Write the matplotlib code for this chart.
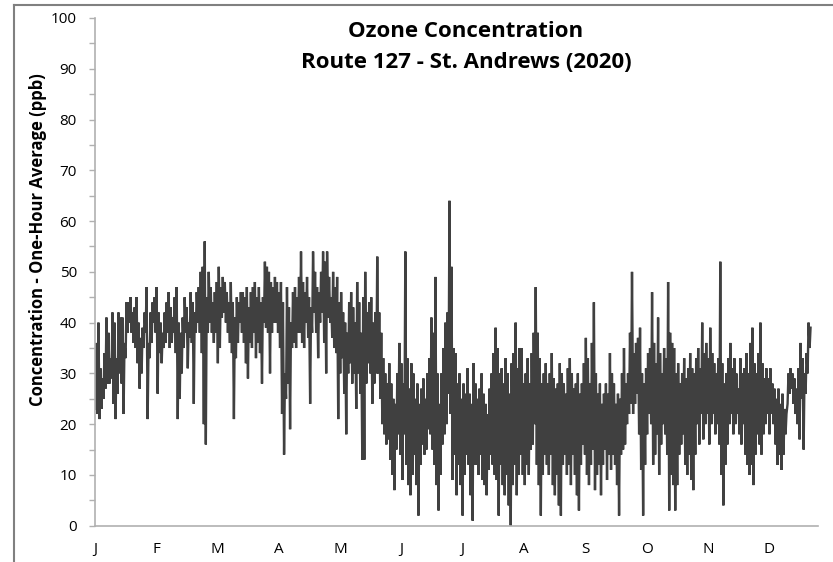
import numpy as np
import matplotlib
matplotlib.use("Agg")
import matplotlib.pyplot as plt

# daily high / low of the hourly ozone trace (ppb), day 0 = Jan 1
hi = [36, 40, 31, 29, 34, 41, 38, 33, 42, 40, 33, 42, 41, 41, 36, 44, 44, 45, 42, 43,
      45, 40, 37, 39, 42, 47, 36, 42, 44, 45, 47,
      42, 40, 38, 42, 44, 46, 43, 41, 45, 47, 40, 38, 41, 45, 43, 40, 46, 44, 42,
      46, 47, 50, 51, 56, 45, 50, 47, 44,
      46, 48, 51, 47, 49, 48, 46, 44, 48, 44, 41, 45, 44, 46, 46, 45, 47, 43, 46, 47,
      48, 45, 47, 44, 45, 52, 51, 50, 48, 47, 49,
      48, 46, 48, 44, 30, 47, 43, 40, 46, 47, 45, 49, 54, 48, 46, 49, 45, 43, 54, 50,
      47, 46, 50, 54, 52, 54, 49, 45, 50, 47,
      49, 44, 46, 42, 40, 38, 44, 46, 43, 40, 48, 44, 38, 45, 50, 42, 44, 45, 40, 42,
      53, 42, 38, 33, 30, 28, 32, 28, 25, 24, 30,
      36, 32, 28, 54, 33, 27, 32, 30, 25, 28, 24, 27, 29, 25, 30, 33, 41, 38, 49, 30,
      24, 30, 35, 40, 42, 64, 51, 35, 34, 28,
      30, 25, 28, 26, 31, 26, 24, 32, 28, 25, 27, 30, 26, 24, 22, 27, 30, 34, 39, 35,
      30, 31, 28, 33, 30, 26, 32, 34, 40, 31, 35,
      35, 28, 30, 33, 28, 34, 38, 47, 38, 33, 28, 30, 32, 28, 30, 34, 29, 27, 28, 32,
      30, 28, 26, 31, 33, 30, 27, 28, 30, 26, 28,
      32, 37, 33, 28, 36, 44, 30, 26, 28, 24, 26, 28, 26, 34, 30, 28, 24, 26, 25, 30,
      35, 28, 30, 38, 50, 34, 36, 37, 39, 30,
      28, 31, 34, 35, 46, 36, 32, 41, 34, 30, 35, 33, 48, 38, 36, 35, 30, 32, 28, 30,
      33, 29, 31, 34, 31, 30, 33, 35, 31, 40, 34,
      36, 33, 39, 34, 32, 30, 33, 52, 32, 28, 30, 33, 36, 31, 33, 30, 27, 33, 30, 31,
      34, 30, 36, 39, 32, 30, 34, 40, 32, 29,
      31, 29, 31, 28, 27, 25, 27, 24, 26, 23, 22, 30, 31, 30, 29, 27, 31, 36, 33, 30,
      34, 40, 39]
lo = [23, 22, 21, 23, 25, 27, 28, 28, 29, 24, 21, 26, 30, 28, 22, 33, 38, 40, 38, 36,
      35, 32, 27, 30, 35, 38, 21, 33, 36, 40, 38,
      26, 34, 32, 35, 36, 38, 35, 36, 38, 34, 21, 25, 30, 35, 38, 31, 37, 36, 24,
      38, 40, 38, 34, 20, 16, 38, 40, 38,
      36, 38, 32, 35, 41, 42, 40, 38, 36, 34, 21, 33, 36, 40, 38, 36, 32, 29, 36, 35,
      38, 33, 36, 34, 28, 40, 39, 38, 30, 38, 40,
      40, 38, 35, 22, 14, 25, 28, 19, 35, 36, 35, 38, 38, 36, 35, 40, 37, 24, 38, 42,
      38, 33, 40, 42, 36, 30, 41, 40, 37, 35,
      34, 21, 30, 33, 26, 18, 30, 32, 28, 30, 23, 30, 26, 13, 13, 28, 32, 30, 24, 28,
      30, 30, 25, 20, 18, 16, 17, 13, 10, 7, 15,
      18, 14, 9, 18, 12, 8, 6, 10, 14, 8, 2, 12, 16, 14, 15, 19, 18, 15, 12, 8,
      3, 10, 16, 18, 20, 26, 22, 9, 14, 6,
      12, 8, 2, 10, 14, 12, 6, 1, 12, 12, 10, 14, 9, 8, 6, 11, 14, 12, 10, 9,
      2, 12, 8, 6, 10, 4, 0, 8, 12, 6, 10,
      14, 10, 8, 12, 10, 15, 16, 20, 12, 8, 2, 10, 14, 12, 10, 14, 8, 6, 10, 4,
      2, 12, 14, 10, 12, 8, 14, 10, 6, 3, 12,
      16, 14, 10, 8, 12, 15, 7, 10, 12, 6, 12, 15, 9, 14, 11, 14, 12, 8, 2, 14,
      15, 16, 20, 22, 24, 22, 24, 26, 18, 11,
      2, 12, 18, 22, 20, 12, 14, 18, 10, 16, 20, 18, 14, 3, 10, 8, 3, 8, 14, 16,
      18, 12, 10, 14, 9, 7, 14, 20, 16, 22, 17,
      20, 22, 16, 20, 22, 18, 20, 16, 10, 4, 12, 16, 20, 22, 18, 20, 22, 18, 16, 20,
      14, 12, 10, 12, 8, 14, 18, 16, 14, 18,
      20, 22, 18, 22, 20, 16, 12, 14, 11, 14, 18, 24, 26, 27, 24, 22, 20, 17, 25, 15,
      26, 30, 35]

month_labels = ["J", "F", "M", "A", "M", "J", "J", "A", "S", "O", "N", "D"]

days = np.arange(len(hi))
t = np.column_stack([days + 0.25, days + 0.7]).ravel()
v = np.column_stack([lo, hi]).ravel()

plt.rcParams["font.family"] = ["Open Sans", "DejaVu Sans"]

fig = plt.figure(figsize=(8.33, 5.62), dpi=100)
ax = fig.add_axes([95 / 833, 1 - 525.7 / 562, 723 / 833, 507.7 / 562])

ax.plot(t, v, color="#404040", lw=1.7, solid_joinstyle="miter")

ax.set_xlim(0, 723 / 2.006)
ax.set_ylim(0, 100)
ax.set_yticks(range(0, 101, 10))
ax.set_yticks(range(5, 100, 10), minor=True)
ax.set_xticks([30.55 * k for k in range(12)])
ax.set_xticklabels(month_labels)
ax.tick_params(axis="y", which="both", direction="out", length=4.5, width=1, color="#b0b0b0",
               labelsize=11, pad=8.5, labelcolor="black")
ax.tick_params(axis="x", length=0, labelsize=11, pad=12, labelcolor="black")
for s in ["top", "right"]:
    ax.spines[s].set_visible(False)
for s in ["left", "bottom"]:
    ax.spines[s].set_color("#b0b0b0")
    ax.spines[s].set_linewidth(1.2)

fig.text(466 / 833, 1 - 37 / 562, "Ozone Concentration", ha="center", va="baseline",
         fontsize=16, fontweight="bold")
fig.text(466 / 833, 1 - 68 / 562, "Route 127 - St. Andrews (2020)", ha="center", va="baseline",
         fontsize=16, fontweight="bold")
fig.text(38 / 833, 1 - 240 / 562, "Concentration - One-Hour Average (ppb)", rotation=90,
         ha="center", va="center", fontsize=12, fontweight="bold")

# chart border (cut off at the right and bottom in the original)
fig.add_artist(plt.Line2D([14 / 833, 14 / 833], [0, 1 - 5 / 562], transform=fig.transFigure,
                          color="#808080", lw=1.5))
fig.add_artist(plt.Line2D([14 / 833, 1], [1 - 5 / 562, 1 - 5 / 562], transform=fig.transFigure,
                          color="#808080", lw=1.5))

fig.savefig("out.png", dpi=100)
